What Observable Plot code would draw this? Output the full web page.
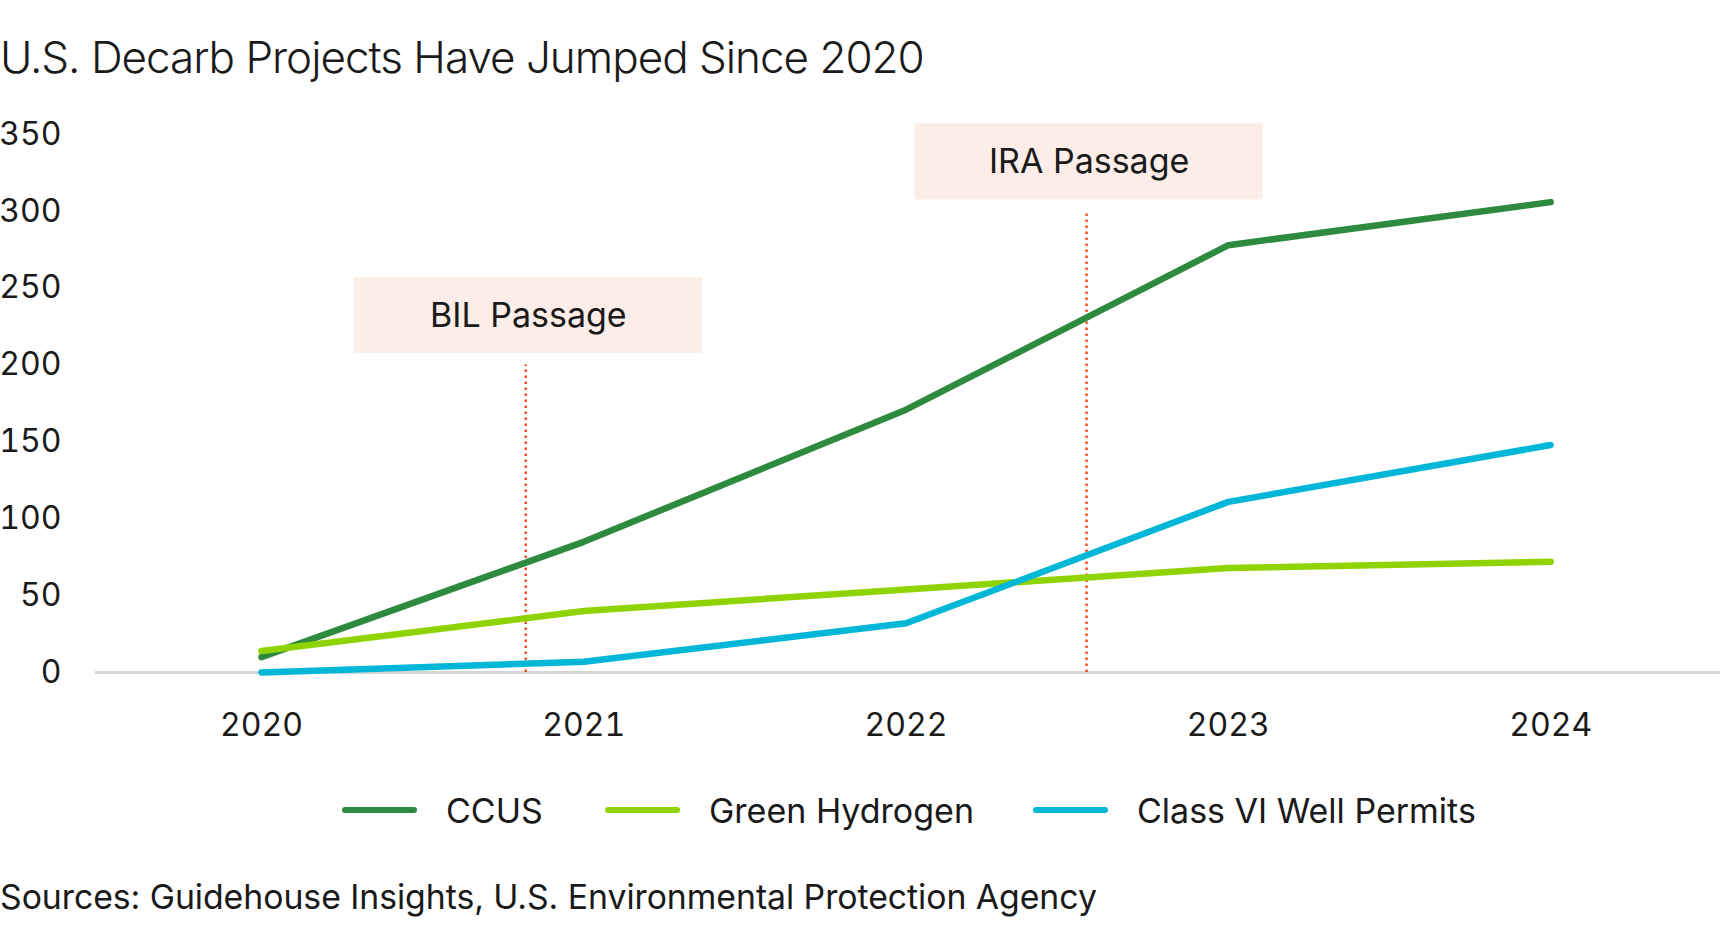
<!DOCTYPE html>
<html>
<head>
<meta charset="utf-8">
<script src="https://cdn.jsdelivr.net/npm/d3@7"></script>
<script src="https://cdn.jsdelivr.net/npm/@observablehq/plot@0.6"></script>
<style>
  html, body { margin: 0; padding: 0; background: #fff; }
  body { width: 1720px; height: 950px; position: relative; overflow: hidden; font-family: Inter, "Noto Sans", sans-serif; color: #1a1a1a; }
  #title { position: absolute; left: 0; top: 35px; font-size: 44px; font-weight: 300; letter-spacing: -1px; line-height: 1; white-space: nowrap; }
  #chart { position: absolute; left: 0; top: 100px; }
  #legend { position: absolute; left: 0; top: 790px; width: 1720px; height: 40px; }
  .item { position: absolute; top: 0; height: 40px; display: flex; align-items: center; font-size: 34px; white-space: nowrap; }
  .sw { width: 75px; height: 6px; border-radius: 3px; margin-right: 29px; }
  #caption { position: absolute; left: 0; top: 880px; font-size: 33.8px; letter-spacing: -0.05px; line-height: 1; white-space: nowrap; }
</style>
</head>
<body>
<div id="title">U.S. Decarb Projects Have Jumped Since 2020</div>
<div id="chart"></div>
<div id="legend"></div>
<div id="caption">Sources: Guidehouse Insights, U.S. Environmental Protection Agency</div>
<script>
// ---- data ----
const years = [2020, 2021, 2022, 2023, 2024];
const ccus = [10, 85, 171, 278, 306];
const greenHydrogen = [14, 40, 54, 68, 72];
const classVIPermits = [0, 7, 32, 111, 148];
const seriesNames = ["CCUS", "Green Hydrogen", "Class VI Well Permits"];
const seriesColors = ["#2e8a3e", "#8fd400", "#00b7d7"];
const yTicks = [0, 50, 100, 150, 200, 250, 300, 350];
const eventLabels = ["BIL Passage", "IRA Passage"];
const eventDates = [2020.82, 2022.56];
const eventLevels = [200, 300];

// ---- build table ----
const seriesValues = [ccus, greenHydrogen, classVIPermits];
const rows = [];
seriesNames.forEach((name, i) => {
  years.forEach((yr, j) => rows.push({series: name, year: yr, value: seriesValues[i][j]}));
});
const events = eventLabels.map((label, i) => ({label, date: eventDates[i], level: eventLevels[i]}));

const font = "Inter, 'Noto Sans', sans-serif";

const chart = Plot.plot({
  width: 1720,
  height: 650,
  marginLeft: 95,
  marginRight: 0,
  marginTop: 34,
  marginBottom: 78,
  style: {fontFamily: font, fontSize: "32px", color: "#1a1a1a", background: "transparent", overflow: "visible"},
  x: {domain: [2019.485, 2024.527], ticks: years, tickFormat: d => String(d), tickSize: 0, tickPadding: 41, label: null},
  y: {domain: [0, 350], ticks: yTicks, tickSize: 0, tickPadding: 34, label: null},
  color: {domain: seriesNames, range: seriesColors},
  marks: [
    Plot.rect(events, {x1: d => d.date - 0.532, x2: d => d.date + 0.548, y1: d => d.level + 7.5, y2: d => d.level + 57, fill: "#fcede8", clip: false}),
    Plot.text(events, {x: d => d.date + 0.008, y: d => d.level + 32, text: "label", fill: "#1a1a1a", fontSize: 34, clip: false}),
    Plot.ruleY([0], {stroke: "#d4d4d4", strokeWidth: 3}),
    Plot.ruleX(events, {x: "date", y1: 0, y2: "level", stroke: "#ee5127", strokeWidth: 2.5, strokeDasharray: "2.5,3.5"}),
    Plot.line(rows, {x: "year", y: "value", z: "series", stroke: "series", strokeWidth: 6.5, strokeLinecap: "round", strokeLinejoin: "round"})
  ]
});
document.getElementById("chart").appendChild(chart);

// ---- legend ----
const legendX = [342, 605, 1033];
const legend = document.getElementById("legend");
seriesNames.forEach((name, i) => {
  const item = document.createElement("div");
  item.className = "item";
  item.style.left = legendX[i] + "px";
  const sw = document.createElement("div");
  sw.className = "sw";
  sw.style.background = seriesColors[i];
  const tx = document.createElement("span");
  tx.textContent = name;
  item.appendChild(sw);
  item.appendChild(tx);
  legend.appendChild(item);
});
</script>
</body>
</html>
